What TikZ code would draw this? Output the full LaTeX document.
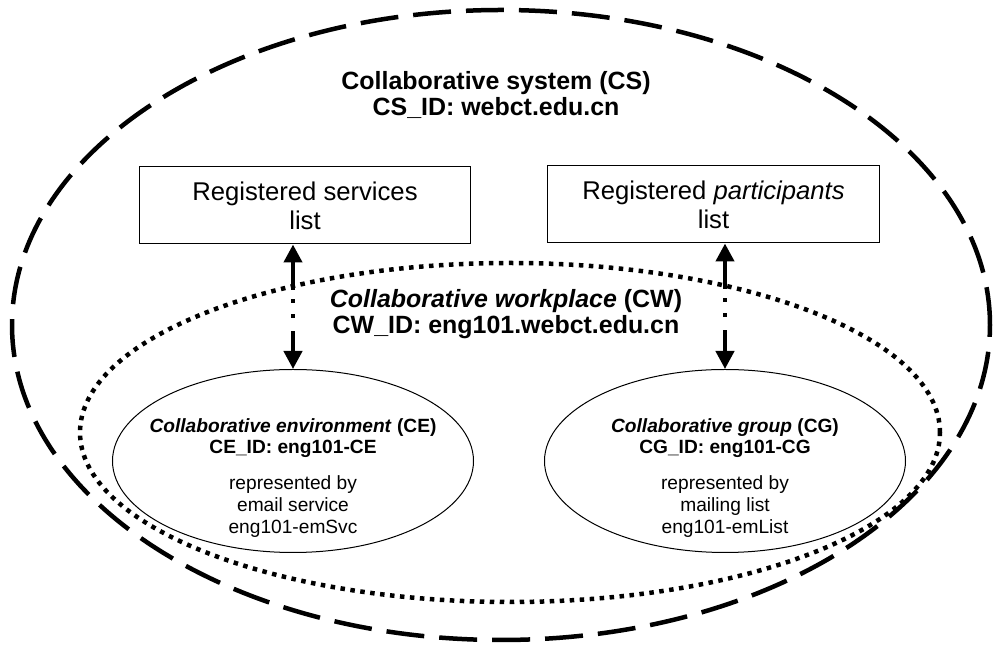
\documentclass[tikz,border=0pt]{standalone}
\usepackage{fontspec}
\setmainfont{Liberation Sans}
\usetikzlibrary{shapes.geometric,arrows.meta}

\begin{document}
\begin{tikzpicture}
\tikzset{
  listbox/.style={shape=rectangle,draw,line width=0.02cm,minimum width=6.63cm,minimum height=1.54cm,align=center,font=\fontsize{14.6}{16.4}\selectfont},
  envellipse/.style={shape=ellipse,draw,line width=0.02cm,minimum width=7.22cm,minimum height=3.66cm},
  envtext/.style={align=center,font=\fontsize{10.9}{12.5}\selectfont},
  bigtitle/.style={align=center,font=\bfseries\fontsize{14.2}{15.2}\selectfont},
  regarrow/.style={{Triangle[length=0.36cm,width=0.36cm]}-{Triangle[length=0.36cm,width=0.36cm]},line width=0.085cm,dash pattern=on 0.58cm off 0.18cm on 0.08cm off 0.22cm on 0.08cm off 0.26cm on 2cm}
}
\useasboundingbox (0,0) rectangle (19.96,12.9);

% collaborative system
\draw[line width=0.09cm,dash pattern=on 0.76cm off 0.3cm] (10.02,6.40) ellipse [x radius=9.78cm,y radius=6.30cm];
\node[bigtitle] (cs) at (9.92,11.0) {Collaborative system (CS)\\CS\_ID: webct.edu.cn};

% collaborative workplace
\draw[line width=0.09cm,dash pattern=on 0.09cm off 0.11cm] (10.20,4.25) ellipse [x radius=8.60cm,y radius=3.39cm];
\node[bigtitle] (cw) at (10.12,6.62) {\textit{Collaborative workplace} (CW)\\CW\_ID: eng101.webct.edu.cn};

\node[listbox] (services) at (6.10,8.79) {Registered services\\list};
\node[listbox] (participants) at (14.27,8.81) {Registered \textit{participants}\\list};

\node[envellipse] (ce) at (5.86,3.68) {};
\node[envellipse] (cg) at (14.5,3.68) {};
\node[envtext] (cetext) at ([yshift=-0.34cm]ce.center) {\textbf{\textit{Collaborative environment} (CE)}\\\textbf{CE\_ID: eng101-CE}\\[0.28cm]represented by\\email service\\eng101-emSvc};
\node[envtext] (cgtext) at ([yshift=-0.34cm]cg.center) {\textbf{\textit{Collaborative group} (CG)}\\\textbf{CG\_ID: eng101-CG}\\[0.28cm]represented by\\mailing list\\eng101-emList};

\draw[regarrow] (services.south -| ce.north) -- (ce.north);
\draw[regarrow] (participants.south -| cg.north) -- (cg.north);
\end{tikzpicture}
\end{document}
